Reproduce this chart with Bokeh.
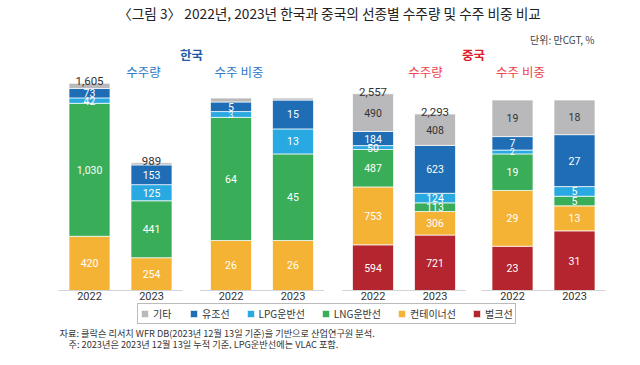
from bokeh.plotting import figure
from bokeh.models import ColumnDataSource, Range1d, Label, Legend, LegendItem
from bokeh.core.properties import value
from bokeh.embed import file_html
from bokeh.resources import INLINE

# ---------------- data ----------------
years = ["2022", "2023"]
ship_types = ["벌크선", "컨테이너선", "LNG운반선", "LPG운반선", "유조선", "기타"]  # bottom -> top
legend_order = ["기타", "유조선", "LPG운반선", "LNG운반선", "컨테이너선", "벌크선"]

korea_bulk_vol = [0, 0]
korea_container_vol = [420, 254]
korea_lng_vol = [1030, 441]
korea_lpg_vol = [42, 125]
korea_crude_vol = [73, 153]
korea_other_vol = [40, 16]
korea_total = [1605, 989]

korea_bulk_share = [0, 0]
korea_container_share = [26, 26]
korea_lng_share = [64, 45]
korea_lpg_share = [3, 13]
korea_crude_share = [5, 15]
korea_other_share = [2, 1]

china_bulk_vol = [594, 721]
china_container_vol = [753, 306]
china_lng_vol = [487, 113]
china_lpg_vol = [50, 124]
china_crude_vol = [184, 623]
china_other_vol = [490, 408]
china_total = [2557, 2293]

china_bulk_share = [23, 31]
china_container_share = [29, 13]
china_lng_share = [19, 5]
china_lpg_share = [2, 5]
china_crude_share = [7, 27]
china_other_share = [19, 18]

title_text = "〈그림 3〉 2022년, 2023년 한국과 중국의 선종별 수주량 및 수주 비중 비교"
unit_text = "단위: 만CGT, %"
source_text = "자료: 클락슨 리서치 WFR DB(2023년 12월 13일 기준)을 기반으로 산업연구원 분석."
note_text = "주: 2023년은 2023년 12월 13일 누적 기준, LPG운반선에는 VLAC 포함."

# ---------------- styles ----------------
colors = {"벌크선": "#b4252f", "컨테이너선": "#f5b335", "LNG운반선": "#3aad58",
          "LPG운반선": "#29a9e1", "유조선": "#1e6db5", "기타": "#b9b9bb"}
KR = "Noto Sans CJK KR"
NUM = value("'Liberation Sans Narrow', 'Roboto', sans-serif")

W, H = 624, 349
p = figure(width=W, height=H, output_backend="svg", toolbar_location=None,
           x_range=Range1d(0, W), y_range=Range1d(H, 0),
           x_axis_type=None, y_axis_type=None, min_border=0,
           background_fill_color="white", border_fill_color="white")
p.grid.visible = False
p.outline_line_color = None

BASE = 290.0   # baseline pixel
TOP = 0.0
BOTTOM = float(H)

def add_range(name, px_per_unit):
    p.extra_y_ranges[name] = Range1d(-(BOTTOM - BASE) / px_per_unit, (BASE - TOP) / px_per_unit)

panels = [
    dict(name="kv", k=0.1291, center=89.0,
         data=[korea_bulk_vol, korea_container_vol, korea_lng_vol, korea_lpg_vol, korea_crude_vol, korea_other_vol],
         labeled=["컨테이너선", "LNG운반선", "LPG운반선", "유조선"], total=korea_total, share=False),
    dict(name="ks", k=1.924, center=230.5,
         data=[korea_bulk_share, korea_container_share, korea_lng_share, korea_lpg_share, korea_crude_share, korea_other_share],
         labeled=["컨테이너선", "LNG운반선", "LPG운반선", "유조선"], total=None, share=True),
    dict(name="cv", k=0.0769, center=372.5,
         data=[china_bulk_vol, china_container_vol, china_lng_vol, china_lpg_vol, china_crude_vol, china_other_vol],
         labeled=ship_types, total=china_total, share=False),
    dict(name="cs", k=1.924, center=512.0,
         data=[china_bulk_share, china_container_share, china_lng_share, china_lpg_share, china_crude_share, china_other_share],
         labeled=ship_types, total=None, share=True),
]
GAP = 62.0
BAR_W = 41.0

renderers_by_type = {}
for pan in panels:
    add_range(pan["name"], pan["k"])
    xs = [pan["center"], pan["center"] + GAP]
    src_dict = {"x": xs}
    for t, vals in zip(ship_types, pan["data"]):
        src_dict[t] = vals
    src = ColumnDataSource(src_dict)
    rs = p.vbar_stack(ship_types, x="x", width=BAR_W, source=src, y_range_name=pan["name"],
                      color=[colors[t] for t in ship_types], line_color="white", line_width=0.7)
    for t, r in zip(ship_types, rs):
        renderers_by_type.setdefault(t, r)

    # segment labels
    lx, ly, lt, lc, ls = [], [], [], [], []
    for i in range(2):
        cum = 0
        for t, vals in zip(ship_types, pan["data"]):
            v = vals[i]
            if t in pan["labeled"] and v > 0:
                lx.append(xs[i]); ly.append(cum + v / 2); lt.append(f"{v:,}")
                lc.append("#333333" if t == "기타" else "white")
                ls.append("8.5px" if (pan["share"] and v <= 3) else "10.5px")
            cum += v
    p.text(x=lx, y=ly, text=lt, text_color=lc, text_font_size=ls, text_font=NUM,
           text_align="center", text_baseline="middle", y_range_name=pan["name"])

    # totals
    if pan["total"] is not None:
        p.text(x=xs, y=pan["total"], text=[f"{v:,}" for v in pan["total"]],
               text_color="#333333", text_font_size="11.5px", text_font=NUM,
               text_align="center", text_baseline="bottom", y_offset=2,
               y_range_name=pan["name"])

    # baseline
    p.segment(x0=[xs[0] - GAP / 2], x1=[xs[1] + GAP / 2], y0=[0], y1=[0],
              line_color="#d4d4d4", line_width=1.2, y_range_name=pan["name"])
    # year labels
    p.text(x=xs, y=[0, 0], text=years, text_color="#333333", text_font_size="11px",
           text_font=NUM, text_align="center", text_baseline="top", y_offset=1,
           y_range_name=pan["name"])

# ---------------- headings ----------------
def lab(x, y, text, size, color, align="center", bold=False):
    p.add_layout(Label(x=x, y=y, text=text, text_font=KR,
                       text_font_size=size, text_color=color, text_align=align,
                       text_baseline="middle", text_font_style="bold" if bold else "normal"))

lab(329, 12, title_text, "13.7px", "#222222")
lab(594, 39, unit_text, "10px", "#444444", align="right")
lab(191, 54, "한국", "12.5px", "#1f5ca8", bold=True)
lab(143, 71, "수주량", "12.5px", "#2f78c8")
lab(238.5, 71, "수주 비중", "12.5px", "#2f78c8")
lab(473, 54, "중국", "12.5px", "#e0202a", bold=True)
lab(425, 71, "수주량", "12.5px", "#f0444c")
lab(520, 71, "수주 비중", "12.5px", "#f0444c")
lab(59, 332.5, source_text, "9.2px", "#333333", align="left")
lab(68, 343, note_text, "9.2px", "#333333", align="left")

# ---------------- legend ----------------
items = [LegendItem(label=t, renderers=[renderers_by_type[t]]) for t in legend_order]
legend = Legend(items=items, orientation="horizontal", location=(137, H - 324),
                glyph_width=9, glyph_height=9, label_height=9, padding=2, margin=0,
                spacing=16, label_standoff=4,
                label_text_font=KR, label_text_font_size="10px",
                label_text_color="#333333", border_line_color="#777777",
                border_line_width=1, background_fill_alpha=1)
p.add_layout(legend)

open("out.html", "w").write(file_html(p, INLINE))
